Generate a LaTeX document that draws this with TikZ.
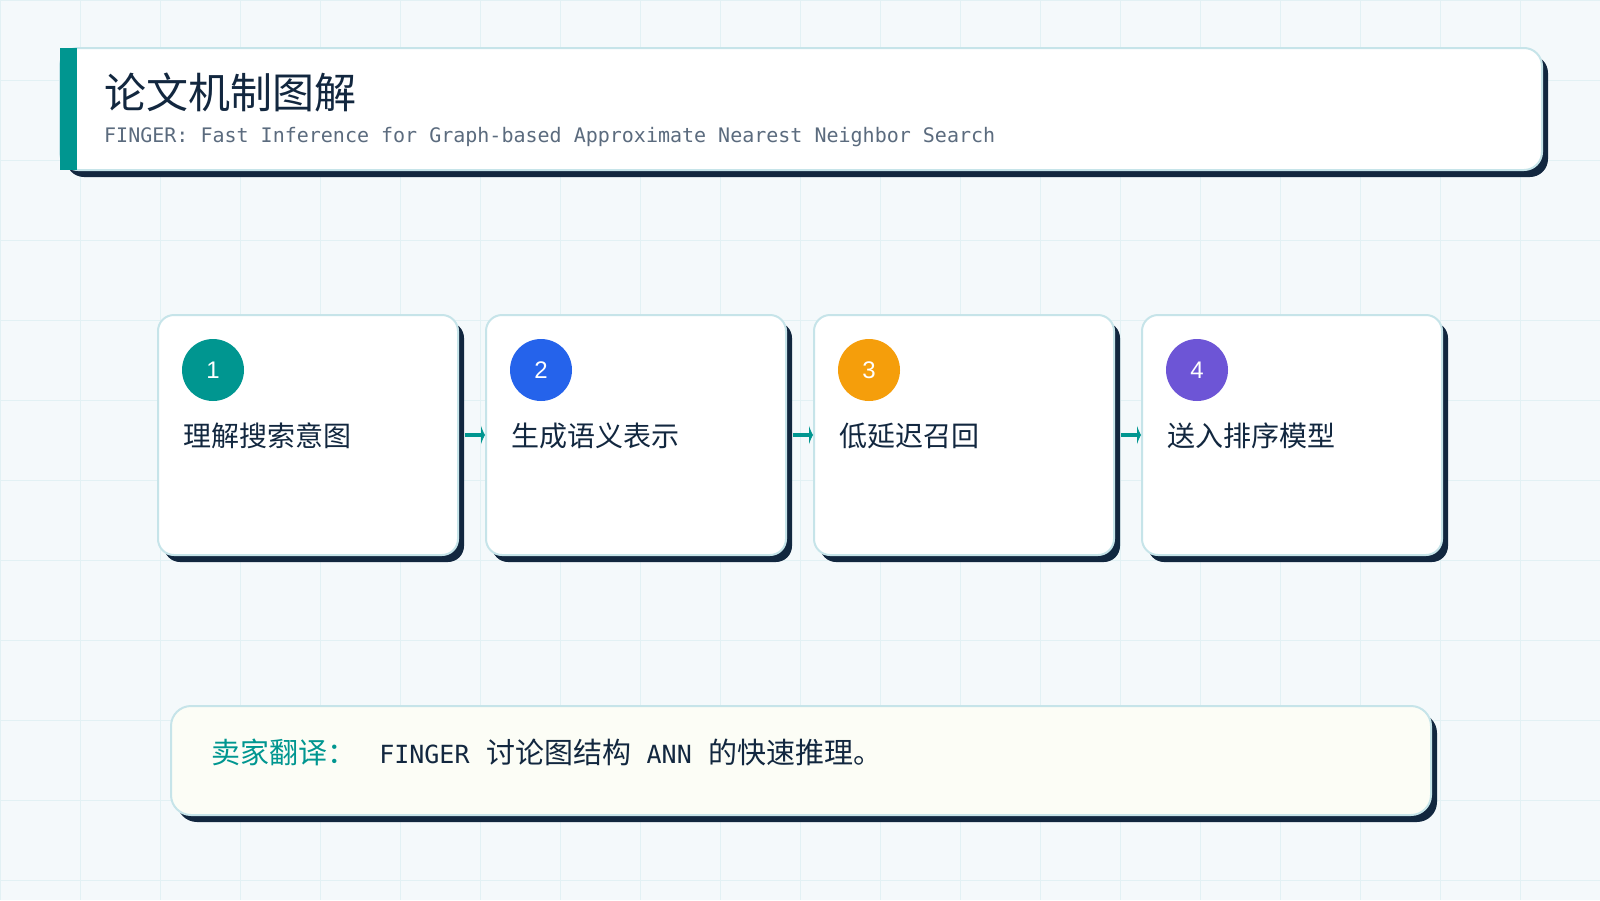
\documentclass[tikz,border=0pt]{standalone}
\usepackage{fontspec}
\setmainfont{Noto Sans CJK SC}
\newfontfamily\monofont{DejaVu Sans Mono}
\newfontfamily\numfont{Liberation Sans}
\usetikzlibrary{%
  arrows.meta,%
  positioning,%
  shadows,%
}
\definecolor{pagebg}{HTML}{F4F9FB}
\definecolor{gridline}{HTML}{E2F1F4}
\definecolor{edge}{HTML}{C6E4E9}
\definecolor{navy}{HTML}{12273F}
\definecolor{tealmark}{HTML}{009690}
\definecolor{stepblue}{HTML}{2563EB}
\definecolor{steporange}{HTML}{F59E0B}
\definecolor{steppurple}{HTML}{6D55D6}
\definecolor{subgray}{HTML}{5B6B7E}
\definecolor{notefill}{HTML}{FCFDF6}
\newcommand{\monotext}[1]{{\monofont\fontsize{25}{30}\selectfont #1}}

\tikzset{
  card/.style={draw=edge, line width=2pt, fill=white, rounded corners=16pt,
    drop shadow={shadow xshift=6pt, shadow yshift=-7pt, fill=navy, opacity=1}},
  stepbox/.style={card, minimum width=300pt, minimum height=240pt},
  badge/.style={circle, minimum size=62pt, inner sep=0pt, text=white,
    font=\numfont\fontsize{24}{24}\selectfont},
  steplabel/.style={anchor=west, inner sep=0pt, text=navy, font=\fontsize{28}{32}\selectfont},
  flow/.style={-{Latex[length=4pt,width=20pt]}, line width=4.5pt, draw=tealmark},
}

\begin{document}
\begin{tikzpicture}[x=1pt, y=-1pt]
      \fill [pagebg] (0,0) rectangle (1600,900);
      \useasboundingbox (0,0) rectangle (1600,900);
      \foreach \gx in {0,80,...,1600} \draw [gridline, line width=1pt] (\gx,0) -- (\gx,900);
      \foreach \gy in {0,80,...,880} \draw [gridline, line width=1pt] (0,\gy) -- (1600,\gy);

      \node [card, rounded corners=18pt, minimum width=1482pt, minimum height=122pt] (header) at (801,109) {};
      \node [fill=tealmark, anchor=west, inner sep=0pt, minimum width=17pt, minimum height=122pt] (accent) at ([xshift=1pt]header.west) {};
      \node [anchor=west, inner sep=0pt, text=navy, font=\fontsize{42}{46}\selectfont] (title) at ([xshift=45pt, yshift=17pt]header.west) {论文机制图解};
      \node [anchor=west, inner sep=0pt, text=subgray, font=\monofont\fontsize{20}{24}\selectfont] (subtitle) at ([xshift=45pt, yshift=-28pt]header.west) {FINGER: Fast Inference for Graph-based Approximate Nearest Neighbor Search};

      \node [stepbox] (s1) at (308,435) {};
      \node [stepbox, right=26pt of s1] (s2) {};
      \node [stepbox, right=26pt of s2] (s3) {};
      \node [stepbox, right=26pt of s3] (s4) {};
      \node [badge, fill=tealmark] (b1) at ([xshift=56pt, yshift=-56pt]s1.north west) {1};
      \node [badge, fill=stepblue] (b2) at ([xshift=56pt, yshift=-56pt]s2.north west) {2};
      \node [badge, fill=steporange] (b3) at ([xshift=56pt, yshift=-56pt]s3.north west) {3};
      \node [badge, fill=steppurple] (b4) at ([xshift=56pt, yshift=-56pt]s4.north west) {4};
      \node [steplabel] (l1) at ([xshift=26pt, yshift=-1pt]s1.west) {理解搜索意图};
      \node [steplabel] (l2) at ([xshift=26pt, yshift=-1pt]s2.west) {生成语义表示};
      \node [steplabel] (l3) at ([xshift=26pt, yshift=-1pt]s3.west) {低延迟召回};
      \node [steplabel] (l4) at ([xshift=26pt, yshift=-1pt]s4.west) {送入排序模型};
      \draw [flow] ([xshift=6pt]s1.east) -- (s2.west);
      \draw [flow] ([xshift=6pt]s2.east) -- (s3.west);
      \draw [flow] ([xshift=6pt]s3.east) -- (s4.west);

      \node [card, fill=notefill, rounded corners=20pt, minimum width=1260pt, minimum height=109pt] (note) at (801,760.5) {};
      \node [anchor=west, inner sep=0pt, text=navy, font=\fontsize{29}{34}\selectfont] (notetext) at ([xshift=41pt, yshift=8pt]note.west) {\textcolor{tealmark}{卖家翻译：}\hspace{8pt}\monotext{\ FINGER\ }\hspace{2pt}讨论图结构\monotext{\ ANN\ }\hspace{2pt}的快速推理。};
    \end{tikzpicture}
\end{document}
